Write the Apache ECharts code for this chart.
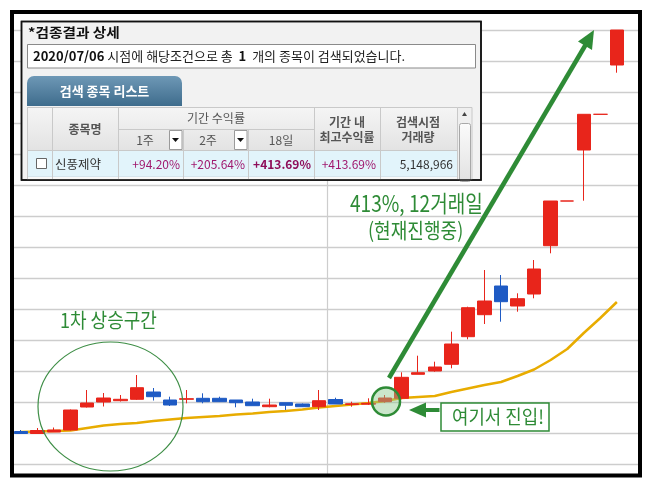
<!DOCTYPE html>
<html><head><meta charset="utf-8">
<script src="https://cdn.jsdelivr.net/npm/echarts@6/dist/echarts.min.js"></script>
<style>html,body{margin:0;padding:0;background:#fff}#c{width:652px;height:488px}</style>
</head><body><div id="c"></div>
<script>
// ---- data ----
const days = ['D1','D2','D3','D4','D5','D6','D7','D8','D9','D10','D11','D12','D13','D14','D15','D16','D17','D18','D19','D20',
  'D21','D22','D23','D24','D25','D26','D27','D28','D29','D30','D31','D32','D33','D34','D35','D36','D37','D38'];
// [open, close, low, high]
const ohlc = [
  [6350,6150,6150,6500],[6150,6450,6150,6700],[6300,6500,6300,6750],[6500,8500,6450,8550],
  [8800,9200,8750,10500],[9300,9700,8850,10200],[9430,9570,9350,10000],[9570,10730,9500,12000],
  [10300,9830,9450,10700],[9500,9000,8900,9830],[9570,9630,9170,10500],[9670,9330,9170,10170],
  [9670,9330,9300,9830],[9500,9230,8770,9500],[9300,8930,8930,9630],[8830,9000,8770,9630],
  [9230,8970,8500,9230],[9100,8830,8800,9150],[8830,9430,8500,10500],[9550,9100,9100,9730],
  [9050,9120,8830,9330],[9080,9170,9000,9670],[9330,9700,9230,10000],[9670,11770,9570,12270],
  [12070,12230,12070,13930],[12400,12800,12330,13330],[13070,15100,12670,16330],[15830,18730,15570,18830],
  [18030,19400,17100,22500],[20900,19330,17330,22000],[18900,19630,18330,20170],[20100,22600,19670,23500],
  [24930,29400,24170,29400],[29400,29400,29400,29400],[34500,38070,29430,38070],[38070,38070,38070,38070],
  [43000,46500,42230,46500],'-'
];
const maValues = [6300,6350,6400,6450,6700,6950,7100,7200,7400,7550,7700,7800,7900,8050,8150,8300,8400,8550,8750,8900,
  9050,9200,9400,9700,9800,9900,10300,10650,11000,11300,11900,12550,13500,14600,16200,17700,19300,'-'];

const panelTitle = '*검종결과 상세';
const infoText = '{b|2020/07/06} 시점에 해당조건으로 총 {b| 1 } 개의 종목이 검색되었습니다.';
const tabLabel = '검색 종목 리스트';
const groupHeader = '기간 수익률';
const periodHeaders = ['1주','2주','18일'];
const otherHeaders = [['종목명'],['기간 내','최고수익률'],['검색시점','거래량']];
const rowName = '신풍제약';
const rowReturns = ['+94.20%','+205.64%','+413.69%','+413.69%'];
const rowVolume = '5,148,966';
const noteRise1 = '1차 상승구간';
const noteGain = '413%, 12거래일';
const noteOngoing = '(현재진행중)';
const noteEntry = '여기서 진입!';

// ---- styles ----
const KR = "'Noto Sans CJK KR', 'Noto Sans', sans-serif";
const GREEN = '#2E8B36';
const RED = '#E8251B';
const BLUE = '#1F5BC4';

function txt(x, y, text, opt) {
  opt = opt || {};
  return {
    type: 'text', x: x, y: y, z: 120,
    scaleX: opt.scaleX || 1,
    style: {
      x: 0, y: 0, text: text,
      font: opt.font || ('12px ' + KR),
      fill: opt.fill || '#333',
      textAlign: opt.align || 'left', align: opt.align || 'left',
      textVerticalAlign: 'middle', verticalAlign: 'middle',
      rich: opt.rich
    }
  };
}
function rect(x, y, w, h, fill, stroke, lw, r) {
  return { type: 'rect', z: 110, shape: { x: x, y: y, width: w, height: h, r: r || 0 },
    style: { fill: fill, stroke: stroke || null, lineWidth: lw || 0 } };
}
function hline(x1, x2, y, c) {
  return { type: 'line', z: 115, shape: { x1: x1, y1: y, x2: x2, y2: y }, style: { stroke: c, lineWidth: 1 } };
}
function vline(x, y1, y2, c) {
  return { type: 'line', z: 115, shape: { x1: x, y1: y1, x2: x, y2: y2 }, style: { stroke: c, lineWidth: 1 } };
}
function grad(c1, c2) {
  return new echarts.graphic.LinearGradient(0, 0, 0, 1, [{ offset: 0, color: c1 }, { offset: 1, color: c2 }]);
}

const cols = [27, 52, 118, 183, 248, 314, 380, 457];
const gridC = '#C9C9C9';
const els = [];
// panel
els.push(rect(21.5, 21.5, 459.5, 158.5, '#F2F2F2', '#111', 1.5));
els.push(txt(28, 32.5, panelTitle, { font: 'bold 13px ' + KR, fill: '#111', scaleX: 1.13 }));
els.push(rect(27.5, 44.5, 448, 23.5, '#FFFFFF', '#8A8A8A', 1));
els.push(txt(33, 56.5, infoText, { font: '13px ' + KR, fill: '#222',
  rich: { b: { fontWeight: 'bold', fontSize: 13, fontFamily: KR, fill: '#111' } } }));
// tab
els.push(rect(27, 76, 155, 30, grad('#6E98B6', '#3E6C8C'), null, 0, [7, 7, 0, 0]));
els.push(txt(104.5, 91, tabLabel, { font: 'bold 13px ' + KR, fill: '#FFFFFF', align: 'center' }));
// header
els.push(rect(27, 107, 430, 43, grad('#F5F5F5', '#E3E3E3')));
els.push(rect(27, 150, 430, 26, '#E2F4FB'));
els.push(rect(27, 176, 430, 3.5, '#F8F8F8'));
els.push(hline(27, 457, 107.5, gridC));
els.push(hline(118, 314, 129.5, gridC));
els.push(hline(27, 457, 150.5, gridC));
els.push(hline(27, 457, 176.5, '#D6E6EE'));
cols.forEach(function (cx, i) {
  const top = (i === 3 || i === 4) ? 129.5 : 107.5;
  els.push(vline(cx + 0.5, top, 179.5, gridC));
});
els.push(txt(85, 129, otherHeaders[0][0], { font: 'bold 12px ' + KR, fill: '#555', align: 'center' }));
els.push(txt(216, 118.5, groupHeader, { font: '12px ' + KR, fill: '#555', align: 'center' }));
els.push(txt(145, 140.5, periodHeaders[0], { font: '12px ' + KR, fill: '#555', align: 'center' }));
els.push(txt(208, 140.5, periodHeaders[1], { font: '12px ' + KR, fill: '#555', align: 'center' }));
els.push(txt(281, 140.5, periodHeaders[2], { font: '12px ' + KR, fill: '#555', align: 'center' }));
els.push(txt(347, 122.5, otherHeaders[1][0], { font: 'bold 12px ' + KR, fill: '#555', align: 'center' }));
els.push(txt(347, 137, otherHeaders[1][1], { font: 'bold 12px ' + KR, fill: '#555', align: 'center' }));
els.push(txt(418, 122.5, otherHeaders[2][0], { font: 'bold 12px ' + KR, fill: '#555', align: 'center' }));
els.push(txt(418, 137, otherHeaders[2][1], { font: 'bold 12px ' + KR, fill: '#555', align: 'center' }));
// dropdowns
[169, 234].forEach(function (dx) {
  els.push(rect(dx + 0.5, 130.5, 12.5, 19, '#FFFFFF', '#9A9A9A', 1));
  els.push({ type: 'polygon', z: 118, shape: { points: [[dx + 3, 138], [dx + 10, 138], [dx + 6.5, 142]] }, style: { fill: '#111' } });
});
// data row
els.push(rect(36.5, 158.5, 10, 10, '#FFFFFF', '#666', 1));
els.push(txt(55, 164, rowName, { font: '12.5px ' + KR, fill: '#333' }));
els.push(txt(180, 164, rowReturns[0], { font: '12px ' + KR, fill: '#A0186E', align: 'right' }));
els.push(txt(245, 164, rowReturns[1], { font: '12px ' + KR, fill: '#A0186E', align: 'right' }));
els.push(txt(311, 164, rowReturns[2], { font: 'bold 12px ' + KR, fill: '#8E0E5A', align: 'right' }));
els.push(txt(376, 164, rowReturns[3], { font: '12px ' + KR, fill: '#A0186E', align: 'right' }));
els.push(txt(453, 164, rowVolume, { font: '12px ' + KR, fill: '#333', align: 'right' }));
// scrollbar
els.push(rect(457.5, 107.5, 14.5, 72, '#EFEFEF', '#C8C8C8', 1));
els.push({ type: 'polygon', z: 118, shape: { points: [[462, 116], [467, 116], [464.5, 112]] }, style: { fill: '#444' } });
els.push(rect(459.5, 123.5, 11, 58, grad('#FBFBFB', '#E2E2E2'), '#A8A8A8', 1, 2));
// re-draw panel border on top
els.push({ type: 'rect', z: 119, shape: { x: 21.5, y: 21.5, width: 459.5, height: 158.5 }, style: { fill: 'none', stroke: '#111', lineWidth: 1.5 } });

// annotations
els.push({ type: 'ellipse', z: 105, shape: { cx: 110.5, cy: 406.5, rx: 72.5, ry: 64.5 }, style: { fill: 'none', stroke: '#3E8E46', lineWidth: 1.2 } });
els.push(txt(60, 320, noteRise1, { font: '20px ' + KR, fill: GREEN, scaleX: 0.9 }));
els.push({ type: 'line', z: 105, shape: { x1: 389, y1: 378, x2: 585.5, y2: 45 }, style: { stroke: GREEN, lineWidth: 4.5 } });
els.push({ type: 'polygon', z: 105, shape: { points: [[594, 30], [592, 50], [578, 41.5]] }, style: { fill: GREEN } });
els.push(txt(350, 203, noteGain, { font: '23px ' + KR, fill: GREEN, scaleX: 0.83 }));
els.push(txt(368, 230, noteOngoing, { font: '21px ' + KR, fill: GREEN, scaleX: 0.86 }));
els.push({ type: 'circle', z: 105, shape: { cx: 386, cy: 401.5, r: 14 }, style: { fill: 'rgba(140,200,140,0.45)', stroke: GREEN, lineWidth: 2.5 } });
els.push({ type: 'polygon', z: 105, shape: { points: [[409, 410], [426, 402.5], [426, 417.5]] }, style: { fill: GREEN } });
els.push({ type: 'rect', z: 105, shape: { x: 425, y: 408, width: 14.5, height: 4 }, style: { fill: GREEN } });
els.push({ type: 'rect', z: 105, shape: { x: 441, y: 403, width: 108, height: 28 }, style: { fill: '#FFFFFF', stroke: GREEN, lineWidth: 1.5 } });
els.push(txt(452, 417, noteEntry, { font: '19px ' + KR, fill: GREEN, scaleX: 0.94 }));
// white margin outside the frame
els.push({ type: 'rect', z: 129, shape: { x: 0, y: 0, width: 652, height: 11 }, style: { fill: '#FFFFFF' } });
els.push({ type: 'rect', z: 129, shape: { x: 0, y: 476, width: 652, height: 12 }, style: { fill: '#FFFFFF' } });
els.push({ type: 'rect', z: 129, shape: { x: 0, y: 0, width: 11, height: 488 }, style: { fill: '#FFFFFF' } });
els.push({ type: 'rect', z: 129, shape: { x: 641, y: 0, width: 11, height: 488 }, style: { fill: '#FFFFFF' } });
// outer frame
els.push({ type: 'rect', z: 130, shape: { x: 12, y: 12, width: 628, height: 463.5 }, style: { fill: 'none', stroke: '#000', lineWidth: 4 } });

const chart = echarts.init(document.getElementById('c'), null, { renderer: 'canvas' });
chart.setOption({
  animation: false,
  backgroundColor: '#FFFFFF',
  grid: { left: 12.7, right: 10.3, top: 30, bottom: -7, outerBoundsMode: 'none', containLabel: false },
  xAxis: {
    type: 'category', data: days, boundaryGap: true,
    axisLine: { show: false }, axisTick: { show: false }, axisLabel: { show: false },
    splitLine: { show: true, interval: function (i) { return i === 0 || i === 19; }, lineStyle: { color: '#CDCDCD', width: 1.2 } }
  },
  yAxis: {
    type: 'value', min: 0, max: 46500, interval: 3100,
    axisLine: { show: false }, axisTick: { show: false }, axisLabel: { show: false },
    splitLine: { show: true, lineStyle: { color: '#CDCDCD', width: 1.3 } }
  },
  series: [
    { type: 'line', data: maValues, showSymbol: false, z: 1,
      lineStyle: { color: '#E8AC00', width: 2.5 } },
    { type: 'candlestick', data: ohlc, barWidth: 14, z: 2, clip: false,
      itemStyle: { color: RED, color0: BLUE, borderColor: RED, borderColor0: BLUE, borderColorDoji: RED, borderWidth: 1 } }
  ],
  graphic: { elements: els }
});
</script>
</body></html>
